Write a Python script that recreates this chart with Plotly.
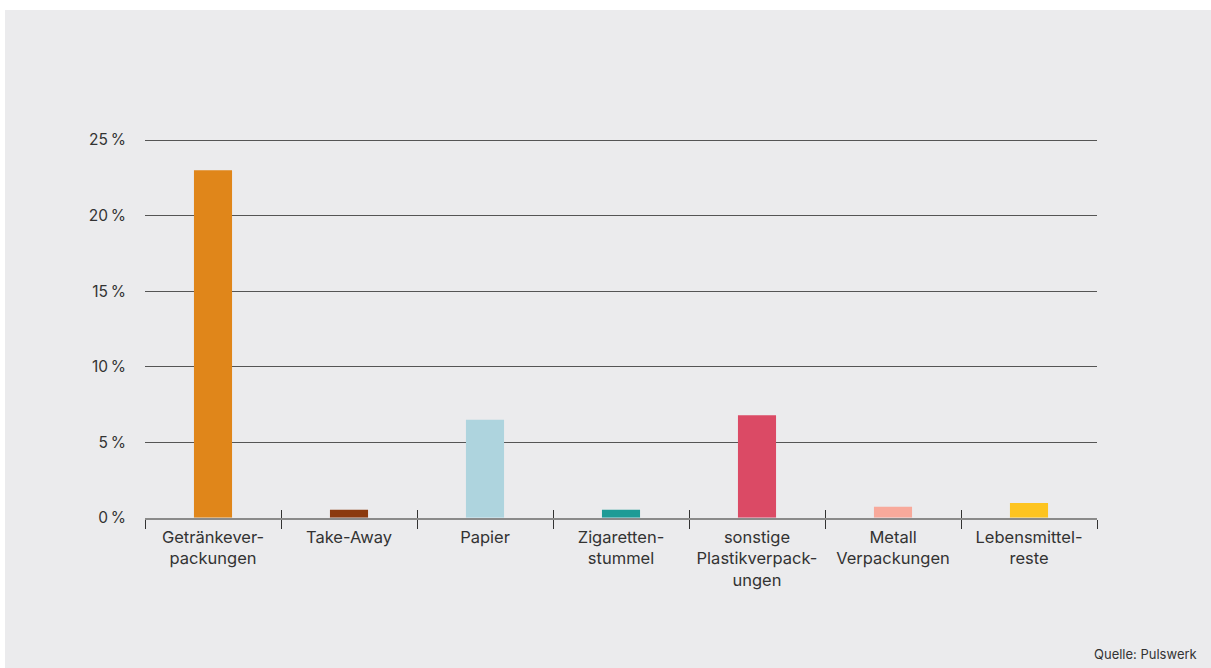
import plotly.graph_objects as go

categories = ["Getränkever-<br>packungen", "Take-Away", "Papier", "Zigaretten-<br>stummel",
              "sonstige<br>Plastikverpack-<br>ungen", "Metall<br>Verpackungen", "Lebensmittel-<br>reste"]
values = [23.0, 0.55, 6.5, 0.55, 6.8, 0.75, 1.0]
colors = ["#e0861a", "#8b3a0f", "#aed4de", "#1e9b96", "#db4a65", "#f8a99b", "#fdc420"]
y_ticks = [0, 5, 10, 15, 20, 25]
y_labels = [f"{v}\u2009%" for v in y_ticks]

W, H = 1211, 668
L, R, T, B = 145, 114, 139, 150
pw, ph = W - L - R, H - T - B

fig = go.Figure()
fig.add_trace(go.Bar(x=categories, y=values, marker=dict(color=colors, line=dict(width=0)),
                     width=0.28, hoverinfo="skip"))
# invisible trace for second x-axis (inside ticks)
fig.add_trace(go.Bar(x=categories, y=[0]*len(categories), xaxis="x2", showlegend=False,
                     marker=dict(color="rgba(0,0,0,0)"), hoverinfo="skip"))

font_fam = "Inter, Noto Sans, sans-serif"
fig.update_layout(
    width=W, height=H,
    margin=dict(l=L, r=R, t=T, b=B),
    paper_bgcolor="#ebebed", plot_bgcolor="rgba(0,0,0,0)",
    showlegend=False,
    font=dict(family=font_fam, size=15, color="#333333"),
    xaxis=dict(type="category", tickson="boundaries", ticks="outside", ticklen=9,
               tickwidth=1, tickcolor="#333333", showline=True, linecolor="#8a8a8a",
               linewidth=2, showgrid=False, tickfont=dict(size=16.5, color="#333333"),
               ticklabelstandoff=3),
    xaxis2=dict(type="category", overlaying="x", matches="x", tickson="boundaries", ticks="inside",
                ticklen=8, tickwidth=1, tickcolor="#333333", showticklabels=False,
                showgrid=False, showline=False, side="bottom"),
    yaxis=dict(range=[0, 25.07], tickvals=y_ticks, ticktext=y_labels, showgrid=True,
               gridcolor="#555555", gridwidth=1, zeroline=False, showline=False,
               ticks="", ticklabelstandoff=18, tickfont=dict(size=15.5, color="#333333")),
    bargap=0.72,
)
# white frame strips (top and left) outside the gray panel
fig.add_shape(type="rect", xref="paper", yref="paper",
              x0=-L/pw - 0.01, x1=1 + R/pw + 0.01, y0=(ph + T - 10)/ph, y1=(ph + T)/ph + 0.01,
              fillcolor="white", line=dict(width=0), layer="below")
fig.add_shape(type="rect", xref="paper", yref="paper",
              x0=-L/pw - 0.01, x1=(-L + 5)/pw, y0=-B/ph - 0.01, y1=(ph + T)/ph + 0.01,
              fillcolor="white", line=dict(width=0), layer="below")
fig.add_annotation(text="Quelle: Pulswerk", xref="paper", yref="paper",
                   x=(pw + R - 12)/pw, y=(-B + 14)/ph, xanchor="right", yanchor="middle",
                   showarrow=False, font=dict(size=13, color="#333333"))

fig.write_html("out.html")
